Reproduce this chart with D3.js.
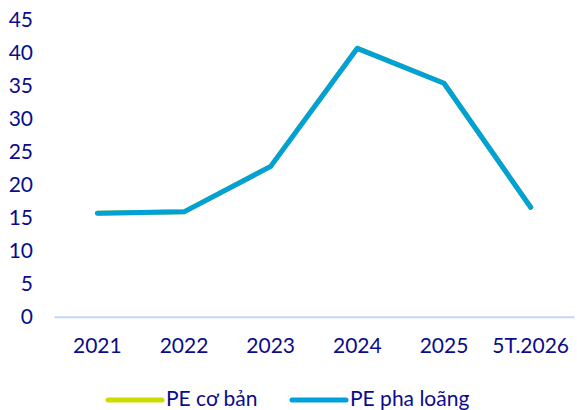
<!DOCTYPE html>
<html>
<head>
<meta charset="utf-8">
<script src="https://cdn.jsdelivr.net/npm/d3@7"></script>
<style>
  body { margin: 0; background: #fff; }
  svg { display: block; font-family: Lato, "Open Sans", sans-serif; }
</style>
</head>
<body>
<svg id="chart" width="577" height="410"></svg>
<script>
// data
const years = ['2021', '2022', '2023', '2024', '2025', '5T.2026'];
const peBasic = [15.7, 15.9, 22.8, 40.7, 35.4, 16.6];
const peDiluted = [15.7, 15.9, 22.8, 40.7, 35.4, 16.6];
const yTicks = [0, 5, 10, 15, 20, 25, 30, 35, 40, 45];
const seriesNames = ['PE cơ bản', 'PE pha loãng'];
const seriesColors = ['#cddc00', '#00a0d8'];

const textColor = '#0b0b8c';
const fontSize = 21;
const svg = d3.select('#chart');

const plotLeft = 54, plotRight = 574, plotTop = 20, plotBottom = 316.7;

const x = d3.scaleBand().domain(years).range([plotLeft, plotRight]);
const y = d3.scaleLinear().domain([0, 45]).range([plotBottom, plotTop]);

// y axis labels, no line
const yAxis = d3.axisLeft(y).tickValues(yTicks).tickSize(0).tickPadding(0);
svg.append('g')
  .attr('transform', 'translate(33,0)')
  .call(yAxis)
  .call(g => g.select('.domain').remove())
  .selectAll('text')
  .attr('fill', textColor)
  .attr('font-size', fontSize)
  .attr('font-family', 'Lato, sans-serif');

// x axis
const xAxis = d3.axisBottom(x).tickSize(0).tickPadding(21);
svg.append('g')
  .attr('transform', 'translate(0,' + plotBottom + ')')
  .call(xAxis)
  .call(g => g.select('.domain').attr('stroke', '#c5d3f7').attr('stroke-width', 2))
  .selectAll('text')
  .attr('fill', textColor)
  .attr('font-size', fontSize)
  .attr('font-family', 'Lato, sans-serif');

const line = d3.line()
  .x((d, i) => x(years[i]) + x.bandwidth() / 2)
  .y(d => y(d));

[peBasic, peDiluted].forEach((values, k) => {
  svg.append('path')
    .datum(values)
    .attr('d', line)
    .attr('fill', 'none')
    .attr('stroke', seriesColors[k])
    .attr('stroke-width', 5)
    .attr('stroke-linecap', 'round')
    .attr('stroke-linejoin', 'round');
});

// legend
const legendX = [108, 292];
const legend = svg.append('g');
seriesNames.forEach((name, k) => {
  legend.append('line')
    .attr('x1', legendX[k]).attr('x2', legendX[k] + 54)
    .attr('y1', 400).attr('y2', 400)
    .attr('stroke', seriesColors[k])
    .attr('stroke-width', 5)
    .attr('stroke-linecap', 'round');
  legend.append('text')
    .attr('x', legendX[k] + 58)
    .attr('y', 406)
    .attr('fill', textColor)
    .attr('font-size', fontSize)
    .text(name);
});
</script>
</body>
</html>
